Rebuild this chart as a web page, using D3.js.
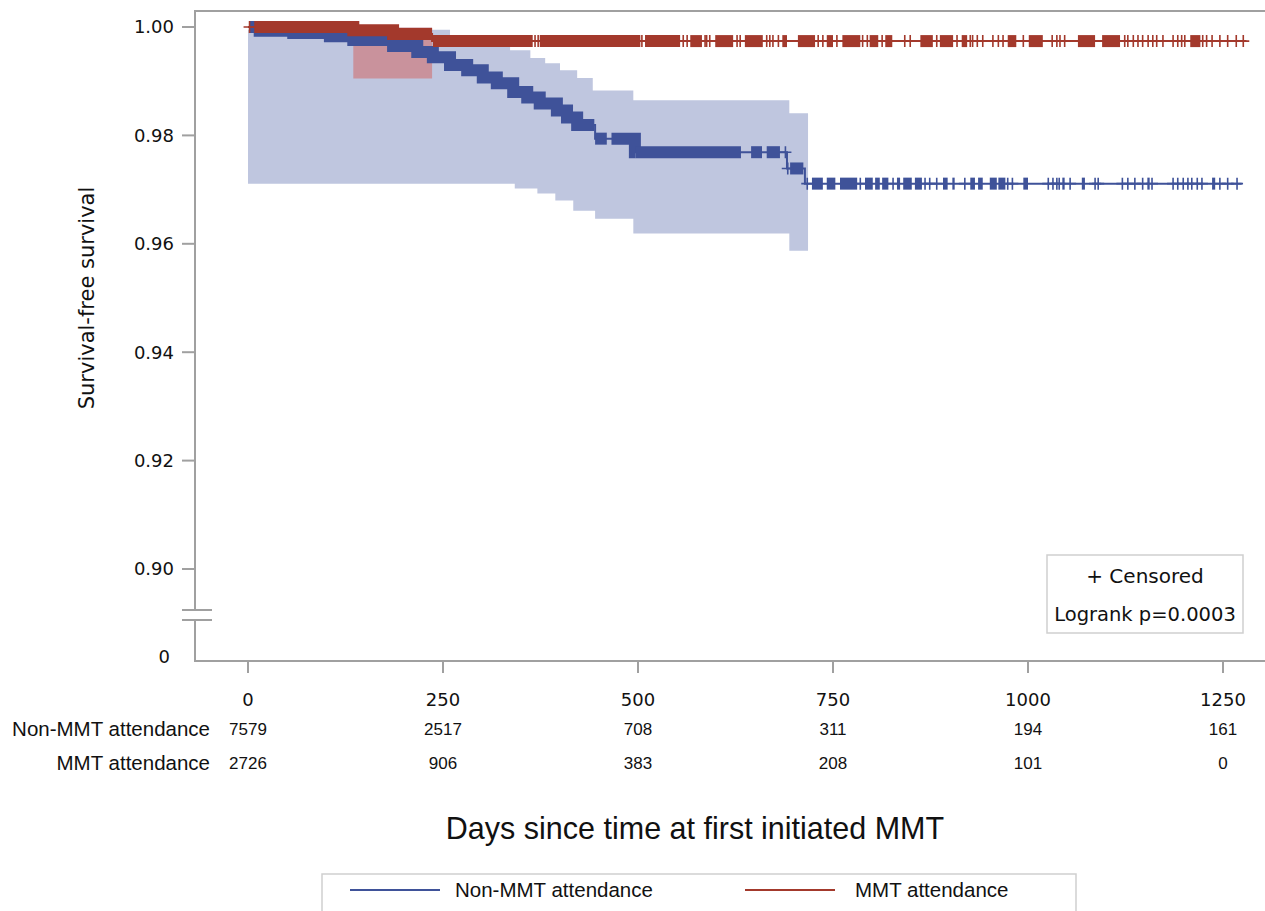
<!DOCTYPE html>
<html>
<head>
<meta charset="utf-8">
<script src="https://cdn.jsdelivr.net/npm/d3@7"></script>
<style>
  body { margin: 0; background: #fff; }
  svg { display: block; }
  .tick-lbl { font-family: "DejaVu Sans", sans-serif; font-size: 18px; fill: #111; }
  .arial { font-family: "Liberation Sans", Arial, sans-serif; fill: #111; }
</style>
</head>
<body>
<svg id="km" width="1265" height="911"></svg>
<script>
// Kaplan-Meier plot: Non-MMT vs MMT attendance
const svg = d3.select("#km");

// ---- data ----
const groups = ["Non-MMT attendance", "MMT attendance"];
const xTicks = [0, 250, 500, 750, 1000, 1250];
const yTicks = [0.90, 0.92, 0.94, 0.96, 0.98, 1.00];
const atRiskNon = [7579, 2517, 708, 311, 194, 161];
const atRiskMmt = [2726, 906, 383, 208, 101, 0];

// [day, survival] – value holds from that day on
const nonSteps = [
  [0, 1.0000], [15, 0.9993], [58, 0.9989], [105, 0.9983], [135, 0.9976],
  [186, 0.9965], [217, 0.9954], [237, 0.9944], [259, 0.9930], [281, 0.9920],
  [301, 0.9907], [319, 0.9896], [340, 0.9880], [358, 0.9870], [374, 0.9859],
  [396, 0.9846], [409, 0.9833], [422, 0.9819], [445, 0.9794], [496, 0.9769],
  [691, 0.9739], [714, 0.9711]
];
const nonEnd = 1274;
const mmtSteps = [[0, 1.0000], [135, 0.9994], [186, 0.9987], [236, 0.9974]];
const mmtEnd = 1280;

// confidence bands [day, lower, upper]
const nonBand = [
  [0, 0.9711, 0.9995], [259, 0.9711, 0.9963], [336, 0.9711, 0.9957],
  [342, 0.9702, 0.9957], [362, 0.9702, 0.9943], [371, 0.9693, 0.9943],
  [381, 0.9693, 0.9933], [394, 0.9680, 0.9933], [400, 0.9680, 0.9920],
  [417, 0.9661, 0.9920], [422, 0.9661, 0.9906], [442, 0.9661, 0.9883],
  [445, 0.9646, 0.9883], [494, 0.9619, 0.9865], [694, 0.9587, 0.9841]
];
const nonBandEnd = 718;
const mmtBand = [[135, 0.9905, 0.9999]];
const mmtBandEnd = 236;

// dense censoring (drawn as solid runs) and single censor marks, in days
const nonCensorRuns = [
  [2, 444], [445, 460], [466, 497], [497, 632], [645, 659], [665, 682],
  [695, 712], [723, 737], [742, 753], [759, 781], [791, 801], [804, 810],
  [813, 821], [832, 836], [840, 851], [855, 864], [891, 897], [903, 906],
  [926, 932], [936, 942], [951, 960], [962, 971], [994, 1000], [1044, 1047],
  [1069, 1073], [1153, 1156], [1236, 1240]
];
const nonCensorTicks = [
  689, 692, 717, 785, 827, 868, 874, 883, 919, 974, 980, 1026, 1032, 1037,
  1040, 1054, 1086, 1090, 1121, 1128, 1137, 1147, 1159, 1186, 1192, 1199,
  1205, 1210, 1217, 1223, 1246, 1256, 1268
];
const mmtCensorRuns = [
  [8, 236], [237, 365], [374, 503], [509, 554], [567, 582], [599, 622],
  [637, 660], [685, 691], [705, 727], [742, 750], [762, 785], [797, 808],
  [817, 826], [862, 878], [887, 904], [915, 922], [974, 985], [1001, 1019],
  [1064, 1086], [1095, 1118], [1208, 1221]
];
const mmtCensorTicks = [
  2, 368, 372, 505, 558, 563, 586, 588, 592, 627, 631, 665, 669, 673, 680,
  731, 737, 755, 788, 794, 813, 842, 849, 883, 909, 926, 929, 935, 942, 955,
  962, 968, 994, 1031, 1037, 1041, 1047, 1124, 1128, 1135, 1141, 1147, 1154,
  1160, 1165, 1173, 1186, 1192, 1197, 1201, 1224, 1229, 1236, 1246, 1256,
  1267, 1276
];

// ---- layout ----
const BLUE = "#3f5299", RED = "#a3392c";
const frameL = 195, frameT = 11, frameB = 661, frameR = 1265;
const x = d3.scaleLinear().domain([0, 1250]).range([248, 1223]);
const y = d3.scaleLinear().domain([0.90, 1.00]).range([569, 27]);
const axisCol = "#a0a0a0";

function stepVal(steps, t) {
  let v = steps[0][1];
  for (const s of steps) if (s[0] <= t) v = s[1];
  return v;
}

// bands
const band = d3.area().curve(d3.curveStepAfter)
  .x(d => x(d[0])).y0(d => y(d[1])).y1(d => y(d[2]));
const nb = nonBand.concat([[nonBandEnd, nonBand.at(-1)[1], nonBand.at(-1)[2]]]);
svg.append("path").attr("d", band(nb)).attr("fill", "#bfc6df");
const mb = mmtBand.concat([[mmtBandEnd, mmtBand.at(-1)[1], mmtBand.at(-1)[2]]]);
svg.append("path").attr("d", band(mb)).attr("fill", "#c9929c");

// curves
const stepLine = d3.line().curve(d3.curveStepAfter).x(d => x(d[0])).y(d => y(d[1]));

function drawGroup(steps, end, runs, ticks, color) {
  const g = svg.append("g");
  g.append("path")
    .attr("d", stepLine(steps.concat([[end, steps.at(-1)[1]]])))
    .attr("fill", "none").attr("stroke", color).attr("stroke-width", 2);
  runs.forEach(([a, b]) => {
    const pts = [[a, stepVal(steps, a)]];
    steps.filter(s => s[0] > a && s[0] < b).forEach(s => pts.push(s));
    pts.push([b, stepVal(steps, b - 0.001)]);
    g.append("path").attr("d", stepLine(pts))
      .attr("fill", "none").attr("stroke", color).attr("stroke-width", 12);
  });
  ticks.forEach(t => {
    const cx = x(t), cy = y(stepVal(steps, t));
    g.append("path")
      .attr("d", `M${cx},${cy - 6}V${cy + 6}M${cx - 6},${cy}H${cx + 6}`)
      .attr("stroke", color).attr("stroke-width", 1.6).attr("fill", "none");
  });
}
drawGroup(nonSteps, nonEnd, nonCensorRuns, nonCensorTicks, BLUE);
drawGroup(mmtSteps, mmtEnd, mmtCensorRuns, mmtCensorTicks, RED);

// ---- frame and axes ----
const ax = svg.append("g").attr("stroke", axisCol).attr("stroke-width", 2).attr("fill", "none");
ax.append("path").attr("d", `M${frameL},610V${frameT}H${frameR}`);
ax.append("path").attr("d", `M${frameL},620V${frameB}H${frameR}`);
ax.append("path").attr("d", `M182,610H212M182,620H212`);

yTicks.forEach(v => {
  ax.append("line").attr("x1", 182).attr("x2", frameL).attr("y1", y(v)).attr("y2", y(v));
  svg.append("text").attr("class", "tick-lbl")
    .attr("x", 174).attr("y", y(v)).attr("dy", "0.36em")
    .attr("text-anchor", "end").text(v.toFixed(2));
});
svg.append("text").attr("class", "tick-lbl")
  .attr("x", 170).attr("y", 657).attr("dy", "0.36em")
  .attr("text-anchor", "end").text("0");

xTicks.forEach(t => {
  ax.append("line").attr("x1", x(t)).attr("x2", x(t)).attr("y1", frameB).attr("y2", 673);
  svg.append("text").attr("class", "tick-lbl")
    .attr("x", x(t)).attr("y", 700).attr("dy", "0.36em")
    .attr("text-anchor", "middle").text(t);
});

svg.append("text").attr("class", "tick-lbl")
  .attr("transform", "translate(86,298) rotate(-90)")
  .attr("text-anchor", "middle").attr("dy", "0.36em")
  .style("font-size", "21px")
  .text("Survival-free survival");

// inset legend
svg.append("rect").attr("x", 1047).attr("y", 555).attr("width", 196).attr("height", 78)
  .attr("fill", "#fff").attr("stroke", "#cfcfcf").attr("stroke-width", 1.5);
svg.append("text").attr("class", "tick-lbl").style("font-size", "20px")
  .attr("x", 1145).attr("y", 576).attr("dy", "0.36em").attr("text-anchor", "middle")
  .text("+ Censored");
svg.append("text").attr("class", "tick-lbl").style("font-size", "19.5px")
  .attr("x", 1145).attr("y", 614).attr("dy", "0.36em").attr("text-anchor", "middle")
  .text("Logrank p=0.0003");

// ---- at-risk table ----
[[groups[0], atRiskNon, 729], [groups[1], atRiskMmt, 763]].forEach(([name, vals, yy]) => {
  svg.append("text").attr("class", "arial").style("font-size", "20.5px")
    .attr("x", 210).attr("y", yy).attr("dy", "0.36em").attr("text-anchor", "end").text(name);
  vals.forEach((v, i) => {
    svg.append("text").attr("class", "arial").style("font-size", "17px")
      .attr("x", x(xTicks[i])).attr("y", yy).attr("dy", "0.36em")
      .attr("text-anchor", "middle").text(v);
  });
});

svg.append("text").attr("class", "arial").style("font-size", "30.5px")
  .attr("x", 695).attr("y", 828).attr("dy", "0.36em").attr("text-anchor", "middle")
  .text("Days since time at first initiated MMT");

// ---- bottom legend ----
svg.append("rect").attr("x", 322).attr("y", 874).attr("width", 754).attr("height", 60)
  .attr("fill", "#fff").attr("stroke", "#cfcfcf").attr("stroke-width", 1.5);
const legItems = [
  { name: groups[0], color: BLUE, x0: 350, tx: 455 },
  { name: groups[1], color: RED, x0: 745, tx: 855 }
];
legItems.forEach(d => {
  svg.append("line").attr("x1", d.x0).attr("x2", d.x0 + 90).attr("y1", 890).attr("y2", 890)
    .attr("stroke", d.color).attr("stroke-width", 2);
  svg.append("text").attr("class", "arial").style("font-size", "20.5px")
    .attr("x", d.tx).attr("y", 890).attr("dy", "0.36em").text(d.name);
});
</script>
</body>
</html>
